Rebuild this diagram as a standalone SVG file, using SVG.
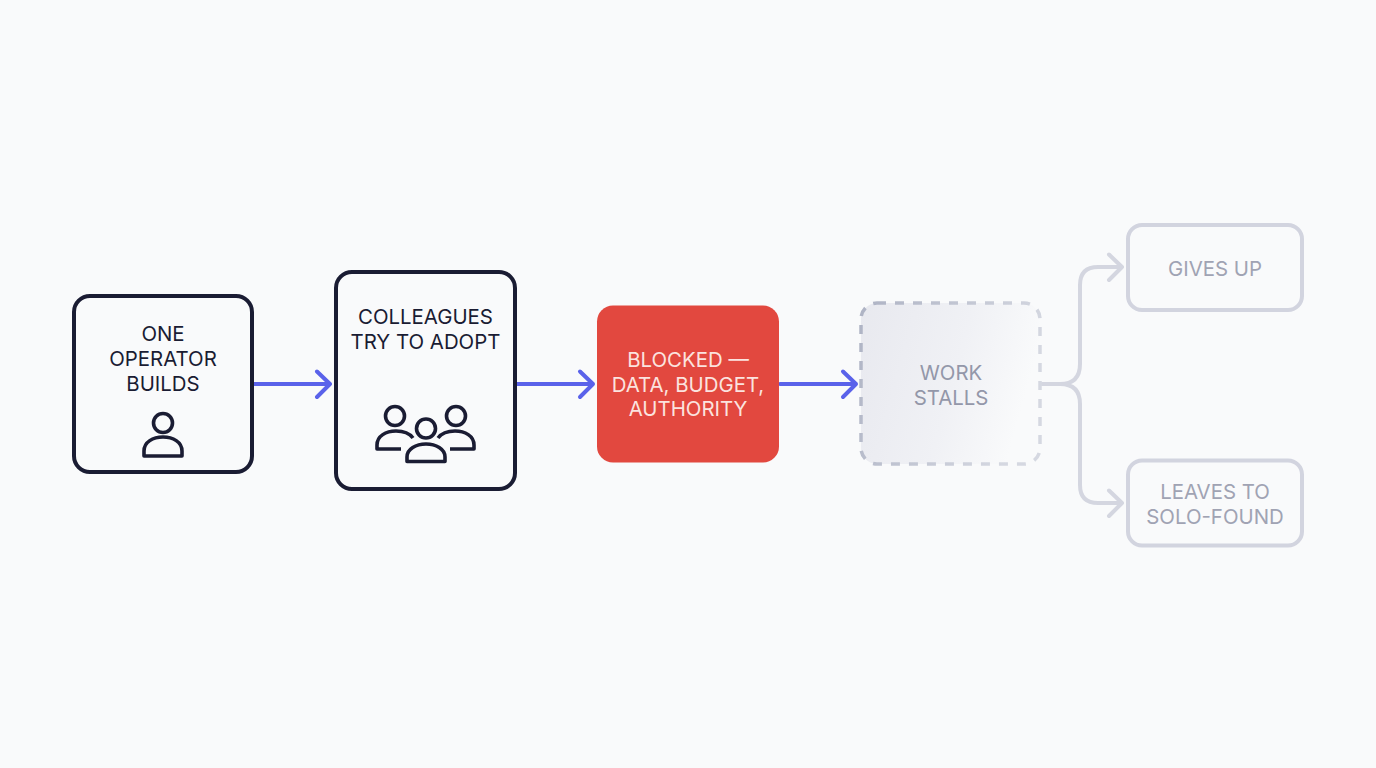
<svg xmlns="http://www.w3.org/2000/svg" width="1376" height="768" viewBox="0 0 1376 768">
<defs>
<linearGradient id="stall" x1="0" y1="0" x2="1" y2="0.25"><stop offset="0" stop-color="#e8e9ef"/><stop offset="0.6" stop-color="#f0f1f5"/><stop offset="1" stop-color="#f9fafb"/></linearGradient>
<linearGradient id="stallStroke" x1="0" y1="0" x2="1" y2="0.3"><stop offset="0" stop-color="#aeb3c4"/><stop offset="1" stop-color="#d5d8e1"/></linearGradient>
</defs>
<style>
text{font-family:Inter,"Liberation Sans",sans-serif;font-size:20.400px;text-anchor:middle}
.dark{fill:#1a1c33}
.white{fill:#fbe3df}
.mid{fill:#9397a9}
.pale{fill:#a0a3b3}
.box{fill:none;stroke:#1a1c33;stroke-width:4}
.ghost{fill:none;stroke:#d2d4df;stroke-width:4}
.icon{fill:none;stroke:#1a1c33;stroke-width:3.600;stroke-linejoin:round}
.flow{fill:none;stroke:#5a62ea;stroke-width:4;stroke-linecap:round;stroke-linejoin:round}
.fade{fill:none;stroke:#d4d6e0;stroke-width:4;stroke-linecap:round;stroke-linejoin:round}
</style>
<rect width="1376" height="768" fill="#f9fafb"/>
<g id="connectors">
<path class="flow" d="M254 384H330M317 371.500L330 384L317 397"/>
<path class="flow" d="M517 384H593M580 371.500L593 384L580 397"/>
<path class="flow" d="M780 384H856M843 371.500L856 384L843 397"/>
<path class="fade" d="M1042 384H1060Q1080 384 1080 364V285Q1080 267 1098 267H1122M1109 254.500L1122 267L1109 280"/>
<path class="fade" d="M1060 384Q1080 384 1080 404V485Q1080 503 1098 503H1122M1109 490.500L1122 503L1109 516"/>
</g>
<g id="node-operator">
<rect class="box" x="74" y="296" width="178" height="176" rx="16"/>
<text class="dark" x="163" y="341">ONE</text>
<text class="dark" x="163" y="366">OPERATOR</text>
<text class="dark" x="163" y="391">BUILDS</text>
<circle class="icon" cx="163" cy="423" r="9.500"/>
<path class="icon" d="M144 456V451C144 442 153 437 163 437C173 437 182 442 182 451V456Z"/>
</g>
<g id="node-colleagues">
<rect class="box" x="336" y="272" width="179" height="217" rx="16"/>
<text class="dark" x="425.500" y="324">COLLEAGUES</text>
<text class="dark" x="425.500" y="349">TRY TO ADOPT</text>
<circle class="icon" cx="395" cy="416" r="9.500"/>
<circle class="icon" cx="456" cy="416" r="9.500"/>
<circle class="icon" cx="426" cy="428.500" r="9.500"/>
<path class="icon" d="M401 449H377V445C377 436 386 431 396 431C404 431 410 434 413 438"/>
<path class="icon" d="M450 449H474V445C474 436 465 431 455 431C447 431 441 434 438 438"/>
<path class="icon" d="M407 461.500V457C407 449 416 444 426 444C436 444 445 449 445 457V461.500Z"/>
</g>
<g id="node-blocked">
<rect x="597" y="305.500" width="182" height="157" rx="16" fill="#e2483f"/>
<text class="white" x="688" y="367">BLOCKED —</text>
<text class="white" x="688" y="392">DATA, BUDGET,</text>
<text class="white" x="688" y="416">AUTHORITY</text>
</g>
<g id="node-stalls">
<rect x="861" y="303" width="179" height="161" rx="16" fill="url(#stall)" stroke="url(#stallStroke)" stroke-width="3.500" stroke-dasharray="9 9"/>
<text class="mid" x="951" y="380">WORK</text>
<text class="mid" x="951" y="404.500">STALLS</text>
</g>
<g id="node-gives-up">
<rect class="ghost" x="1128" y="225" width="174" height="85" rx="14"/>
<text class="pale" x="1215" y="275.500">GIVES UP</text>
</g>
<g id="node-solo">
<rect class="ghost" x="1128" y="460.500" width="174" height="85" rx="14"/>
<text class="pale" x="1215" y="499">LEAVES TO</text>
<text class="pale" x="1215" y="523.500">SOLO-FOUND</text>
</g>
</svg>
